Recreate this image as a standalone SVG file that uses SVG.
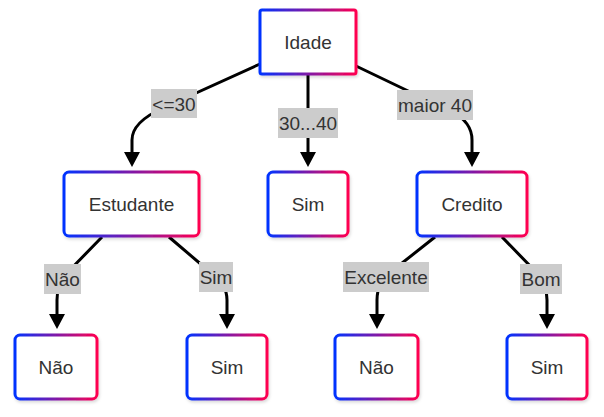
<svg xmlns="http://www.w3.org/2000/svg" width="604" height="417" viewBox="0 0 604 417">
<style>
.node rect{fill:#fff;stroke:url(#grad);stroke-width:3;filter:url(#sh)}
.node text,.lbl text{font-family:"Liberation Sans",Arial,sans-serif;font-size:19px;fill:#333;text-anchor:middle}
.edge{fill:none;stroke:#000;stroke-width:3;marker-end:url(#arr)}
.lbl rect{fill:#cccccc}
</style>
<defs>
<linearGradient id="grad" x1="0" y1="0" x2="1" y2="0">
<stop offset="0" stop-color="#0033ff"/>
<stop offset="1" stop-color="#ff0050"/>
</linearGradient>
<filter id="sh" x="-10%" y="-10%" width="130%" height="130%">
<feDropShadow dx="1" dy="2" stdDeviation="1.5" flood-color="#000" flood-opacity="0.15"/>
</filter>
<marker id="arr" viewBox="0 0 15 16" refX="0" refY="8" markerWidth="15" markerHeight="16" markerUnits="userSpaceOnUse" orient="auto">
<path d="M0,0 L15,8 L0,16 z" fill="#000"/>
</marker>
</defs>
<g id="edges">
<path class="edge" d="M260,64 L163,108 Q132,122 132,140 L132,152"/>
<path class="edge" d="M308,74 L308,152"/>
<path class="edge" d="M356,66 L452,112 Q472,122 472,140 L472,152"/>
<path class="edge" d="M102,237 L66,274 Q57,284 57,300 L57,314"/>
<path class="edge" d="M169,237 L210,272 Q227,284 227,300 L227,314"/>
<path class="edge" d="M435,237 L392,271 Q377,282 377,300 L377,314"/>
<path class="edge" d="M502,237 L536,272 Q547,283 547,300 L547,314"/>
</g>
<g id="labels">
<g class="lbl"><rect x="151" y="89" width="46" height="29"/><text x="174" y="110.5">&lt;=30</text></g>
<g class="lbl"><rect x="278" y="108" width="60" height="30"/><text x="308" y="129.5">30...40</text></g>
<g class="lbl"><rect x="397" y="90" width="76" height="30"/><text x="435" y="111.5">maior 40</text></g>
<g class="lbl"><rect x="44" y="264" width="37" height="30"/><text x="62.5" y="285.5">Não</text></g>
<g class="lbl"><rect x="199" y="262" width="34" height="30"/><text x="216" y="283.5">Sim</text></g>
<g class="lbl"><rect x="343" y="262" width="86" height="30"/><text x="386" y="283.5">Excelente</text></g>
<g class="lbl"><rect x="520" y="264" width="42" height="30"/><text x="541" y="285.5">Bom</text></g>
</g>
<g id="idade" class="node"><rect x="260" y="10" width="96" height="64" rx="2"/><text x="308" y="48.5">Idade</text></g>
<g id="estudante" class="node"><rect x="64" y="172" width="135" height="64" rx="5"/><text x="131.5" y="210.5">Estudante</text></g>
<g id="sim1" class="node"><rect x="268" y="172" width="80" height="64" rx="5"/><text x="308" y="210.5">Sim</text></g>
<g id="credito" class="node"><rect x="417" y="172" width="110" height="64" rx="5"/><text x="472" y="210.5">Credito</text></g>
<g id="nao1" class="node"><rect x="15" y="335" width="82" height="64" rx="5"/><text x="56" y="373.5">Não</text></g>
<g id="sim2" class="node"><rect x="187" y="335" width="80" height="64" rx="5"/><text x="227" y="373.5">Sim</text></g>
<g id="nao2" class="node"><rect x="335" y="335" width="83" height="64" rx="5"/><text x="376.5" y="373.5">Não</text></g>
<g id="sim3" class="node"><rect x="507" y="335" width="80" height="64" rx="5"/><text x="547" y="373.5">Sim</text></g>
</svg>
